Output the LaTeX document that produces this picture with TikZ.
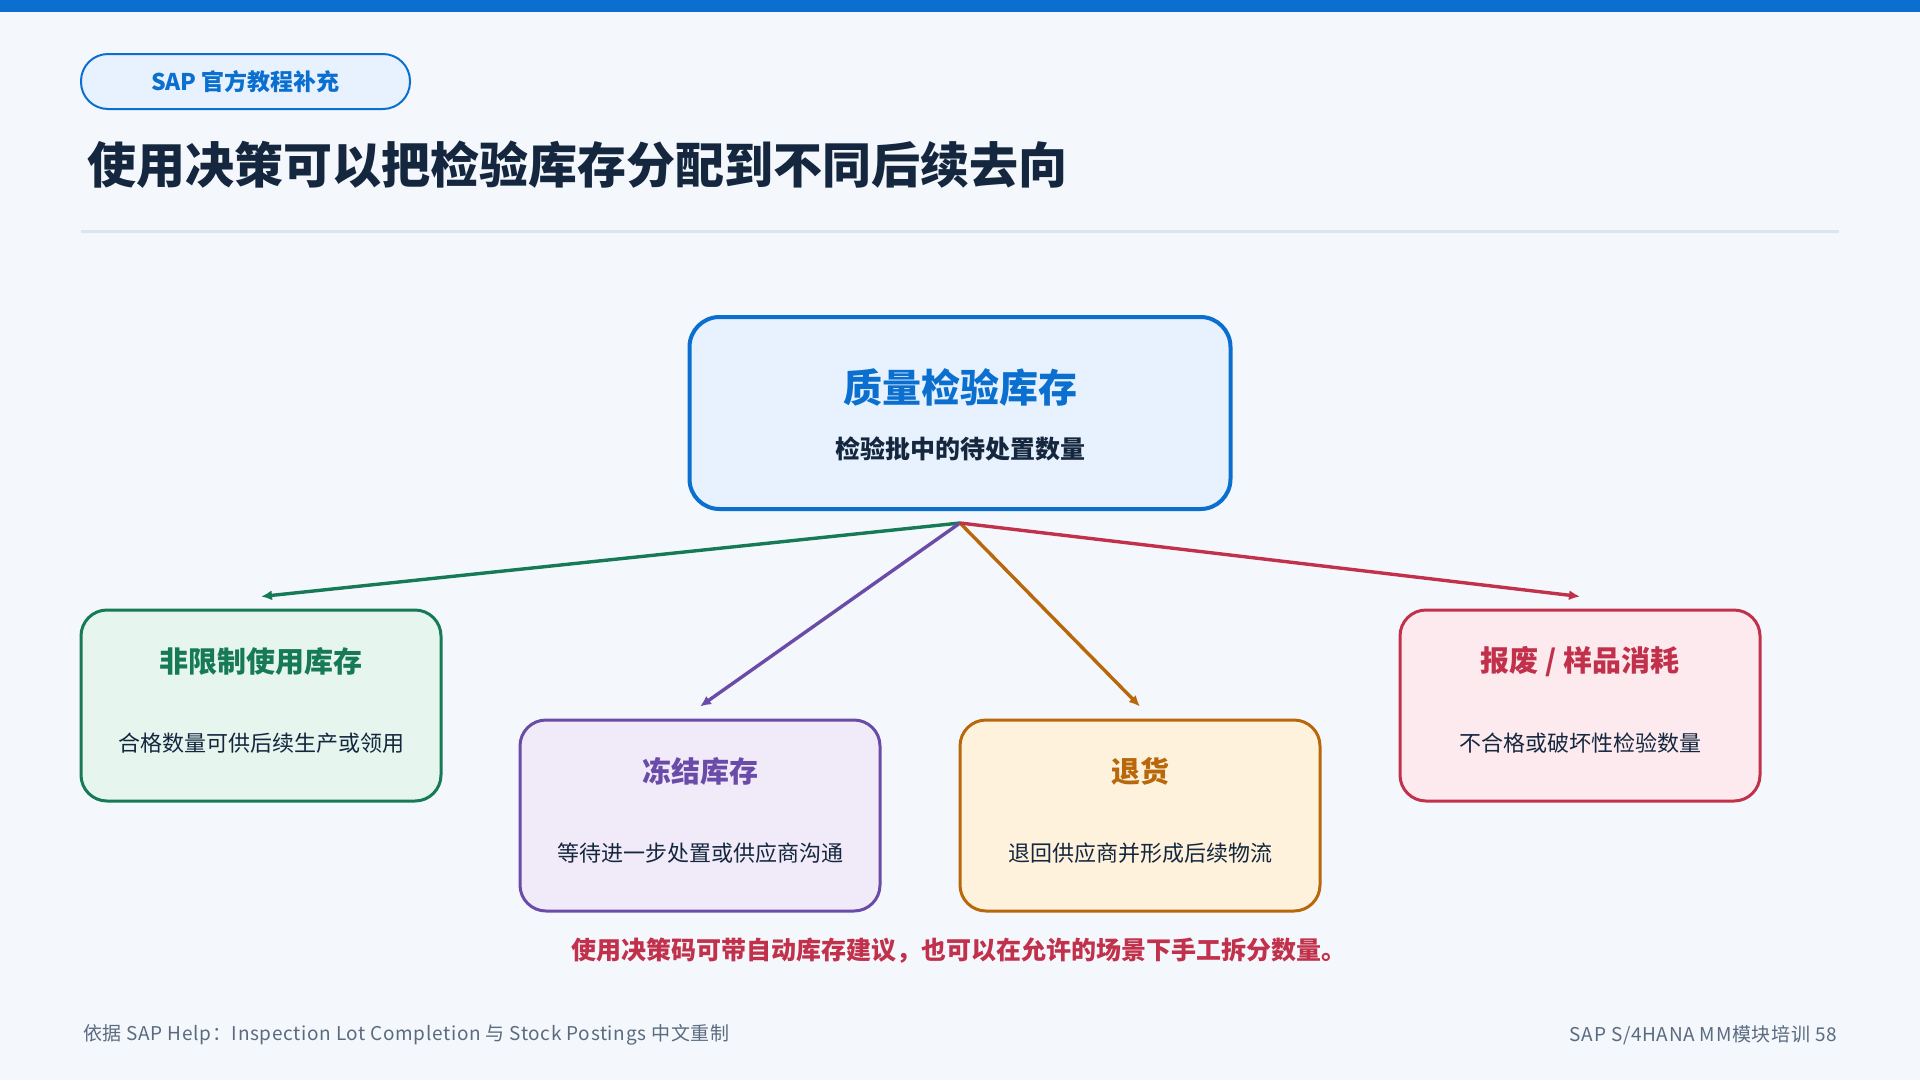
\documentclass[tikz,border=0pt]{standalone}
\usepackage{fontspec}
\setmainfont{Noto Sans CJK SC}
\usetikzlibrary{arrows.meta, positioning, calc}

\definecolor{pagebg}{HTML}{F4F7FB}
\definecolor{sapblue}{HTML}{0B6FD0}
\definecolor{bluefill}{HTML}{E8F2FE}
\definecolor{ink}{HTML}{14273E}
\definecolor{rulegray}{HTML}{DCE4EE}
\definecolor{footgray}{HTML}{5A6B80}
\definecolor{okgreen}{HTML}{177A57}
\definecolor{okfill}{HTML}{E6F5EE}
\definecolor{blkpurple}{HTML}{6B4BA8}
\definecolor{blkfill}{HTML}{F1EAF8}
\definecolor{retorange}{HTML}{B8680A}
\definecolor{retfill}{HTML}{FEF2DC}
\definecolor{scrapred}{HTML}{C1314B}
\definecolor{scrapfill}{HTML}{FDEAEE}

\tikzset{
  card/.style     ={rectangle, rounded corners=26pt, minimum width=360pt, minimum height=191pt, line width=3pt},
  cardtitle/.style={inner sep=0pt, font=\fontsize{29}{35}\selectfont\bfseries},
  cardtext/.style ={inner sep=0pt, text=ink, font=\fontsize{22}{27}\selectfont},
  flow/.style     ={-{Latex[length=11pt, width=10pt]}, line width=3.4pt},
  foot/.style     ={inner sep=0pt, text=footgray, font=\fontsize{19}{23}\selectfont\addfontfeature{LetterSpace=3.5}},
}

\begin{document}
\begin{tikzpicture}[x=1pt, y=-1pt]

% 页面底色与顶部色条
\fill[pagebg] (0,0) rectangle (1920,1080);
\fill[sapblue] (0,0) rectangle (1920,12);

% 标签与标题
\node[rectangle, rounded corners=27pt, draw=sapblue, line width=2pt, fill=bluefill,
      minimum width=329pt, minimum height=55pt, text=sapblue,
      font=\fontsize{23}{28}\selectfont\bfseries] (tag) at (245.5,81.5) {SAP 官方教程补充};
\node[anchor=west, inner sep=0pt, text=ink, font=\fontsize{49}{59}\selectfont\bfseries]
      (title) at (87,165) {使用决策可以把检验库存分配到不同后续去向};
\draw[rulegray, line width=3pt] (81,231) -- (1839,231);

% 中心：质量检验库存
\node[rectangle, rounded corners=30pt, draw=sapblue, line width=4pt, fill=bluefill,
      minimum width=541pt, minimum height=192pt] (quality) at (960,413) {};
\node[inner sep=0pt, text=sapblue, font=\fontsize{39}{46}\selectfont\bfseries]
      (qualityT) at ($(quality.north)+(0,72)$) {质量检验库存};
\node[inner sep=0pt, text=ink, font=\fontsize{25}{30}\selectfont\bfseries]
      (qualityS) at ($(quality.north)+(0,134)$) {检验批中的待处置数量};

% 四个去向
\node[card, draw=okgreen, fill=okfill] (unres) at (261,705.5) {};
\node[cardtitle, text=okgreen] (unresT) at ($(unres.north)+(0,53)$) {非限制使用库存};
\node[cardtext] (unresS) at ($(unres.north)+(0,135)$) {合格数量可供后续生产或领用};

\node[card, draw=blkpurple, fill=blkfill] (blocked) at (700,815.5) {};
\node[cardtitle, text=blkpurple] (blockedT) at ($(blocked.north)+(0,53)$) {冻结库存};
\node[cardtext] (blockedS) at ($(blocked.north)+(0,135)$) {等待进一步处置或供应商沟通};

\node[card, draw=retorange, fill=retfill] (return) at (1140,815.5) {};
\node[cardtitle, text=retorange] (returnT) at ($(return.north)+(0,53)$) {退货};
\node[cardtext] (returnS) at ($(return.north)+(0,135)$) {退回供应商并形成后续物流};

\node[card, draw=scrapred, fill=scrapfill] (scrap) at (1580,705.5) {};
\node[cardtitle, text=scrapred] (scrapT) at ($(scrap.north)+(0,53)$) {报废 / 样品消耗};
\node[cardtext] (scrapS) at ($(scrap.north)+(0,135)$) {不合格或破坏性检验数量};

% 连接线
\draw[flow, draw=okgreen]   ([yshift=-12pt]quality.south) -- ([yshift=12pt]unres.north);
\draw[flow, draw=blkpurple] ([yshift=-12pt]quality.south) -- ([yshift=12pt]blocked.north);
\draw[flow, draw=retorange] ([yshift=-12pt]quality.south) -- ([yshift=12pt]return.north);
\draw[flow, draw=scrapred]  ([yshift=-12pt]quality.south) -- ([yshift=12pt]scrap.north);

% 说明与页脚
\node[inner sep=0pt, text=scrapred, font=\fontsize{25}{30}\selectfont\bfseries]
      (note) at (959,951) {使用决策码可带自动库存建议，也可以在允许的场景下手工拆分数量。};
\node[foot, anchor=west] (source) at (83,1035) {依据 SAP Help：Inspection Lot Completion 与 Stock Postings 中文重制};
\node[foot, anchor=east] (page) at (1837,1035) {SAP S/4HANA MM模块培训 58};

\end{tikzpicture}
\end{document}
